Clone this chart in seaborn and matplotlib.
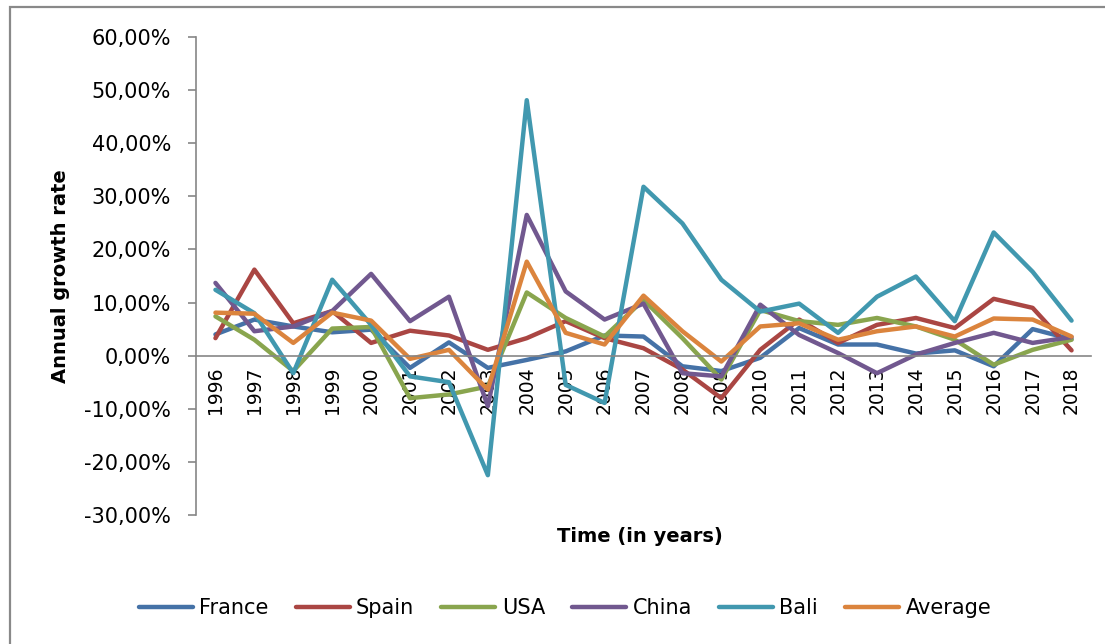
import numpy as np
import pandas as pd
import matplotlib
matplotlib.use("Agg")
import matplotlib.pyplot as plt
import seaborn as sns
from matplotlib.lines import Line2D
from matplotlib.patches import Rectangle

# Annual growth rates (%), 1996-2018
years = [str(y) for y in range(1996, 2019)]
france = [4.0, 6.8, 5.5, 4.4, 4.9, -2.3, 2.5, -2.3, -0.8, 0.8, 3.8, 3.6, -2.0,
          -2.9, -0.4, 5.2, 2.1, 2.1, 0.4, 1.0, -2.0, 5.0, 3.1]
spain = [3.3, 16.2, 6.1, 8.4, 2.4, 4.7, 3.8, 1.1, 3.3, 6.5, 3.3, 1.4, -2.6,
         -8.0, 1.1, 6.8, 2.4, 5.8, 7.1, 5.2, 10.7, 9.0, 1.0]
usa = [7.4, 3.0, -2.9, 5.1, 5.4, -8.0, -7.3, -5.8, 11.9, 7.1, 3.6, 10.5, 3.3,
       -4.5, 8.6, 6.5, 5.8, 7.1, 5.5, 3.0, -1.7, 1.1, 3.0]
china = [13.7, 4.6, 5.5, 8.4, 15.4, 6.5, 11.1, -9.5, 26.5, 12.1, 6.8, 9.8, -3.3,
         -3.9, 9.6, 3.9, 0.5, -3.3, 0.2, 2.4, 4.3, 2.4, 3.5]
bali = [12.4, 8.0, -3.3, 14.3, 5.8, -3.9, -5.0, -22.5, 48.1, -5.5, -8.9, 31.8,
        24.9, 14.3, 8.3, 9.8, 4.3, 11.1, 14.9, 6.5, 23.2, 15.8, 6.6]
average = [8.1, 7.9, 2.4, 8.1, 6.6, -0.6, 1.1, -6.4, 17.7, 4.3, 2.1, 11.3, 4.6,
           -1.1, 5.5, 6.1, 3.0, 4.6, 5.5, 3.6, 7.0, 6.8, 3.6]

series_names = ["France", "Spain", "USA", "China", "Bali", "Average"]
series_values = [france, spain, usa, china, bali, average]
colors = ["#4572A7", "#AA4643", "#89A54E", "#71588F", "#4198AF", "#DB843D"]
y_ticks = [-0.30, -0.20, -0.10, 0.0, 0.10, 0.20, 0.30, 0.40, 0.50, 0.60]

frames = []
for name, vals in zip(series_names, series_values):
    frames.append(pd.DataFrame({
        "pos": np.arange(len(years)),
        "year": years,
        "rate": np.array(vals) / 100.0,
        "series": name,
    }))
df = pd.concat(frames, ignore_index=True)

sns.set_style("white")
plt.rcParams["font.family"] = ["DejaVu Sans"]
plt.rcParams["text.color"] = "black"
plt.rcParams["xtick.labelcolor"] = "black"
plt.rcParams["ytick.labelcolor"] = "black"

fig = plt.figure(figsize=(11.05, 6.44), dpi=100)
ax = fig.add_axes([196 / 1105, 1 - 515 / 644, (1091 - 196) / 1105, (515 - 37) / 644])

sns.lineplot(data=df, x="pos", y="rate", hue="series", hue_order=series_names,
             palette=dict(zip(series_names, colors)), linewidth=3.2,
             errorbar=None, legend=False, ax=ax, sort=False)
for ln in ax.lines:
    ln.set_solid_joinstyle("round")
    ln.set_solid_capstyle("round")

axis_gray = "#868686"
ax.set_xlim(-0.5, len(years) - 0.5)
ax.set_ylim(-0.30, 0.60)

# Category axis sits on the zero line
for s in ["top", "right"]:
    ax.spines[s].set_visible(False)
ax.spines["bottom"].set_position(("data", 0))
for s in ["bottom", "left"]:
    ax.spines[s].set_color(axis_gray)
    ax.spines[s].set_linewidth(1.2)

ax.set_xticks(np.arange(len(years) + 1) - 0.5)
ax.set_xticklabels([])
ax.set_xticks(np.arange(len(years)), minor=True)
ax.set_xticklabels(years, minor=True, rotation=90, fontsize=13.5, color="black")
ax.tick_params(axis="x", which="major", direction="out", length=5,
               width=1.2, color=axis_gray)
ax.tick_params(axis="x", which="minor", length=0, pad=8)

ax.set_yticks(y_ticks)
ax.set_yticklabels([f"{v * 100:.2f}%".replace(".", ",") for v in y_ticks],
                   fontsize=15, color="black")
ax.tick_params(axis="y", direction="out", length=6, width=1.2,
               color=axis_gray, pad=12, left=True)
ax.grid(False)

ax.set_xlabel("")
ax.set_ylabel("")
fig.text(60 / 1105, 1 - 276 / 644, "Annual growth rate", rotation=90,
         ha="center", va="center", fontsize=14, fontweight="bold",
         color="black")
fig.text(640 / 1105, 1 - 537 / 644, "Time (in years)", ha="center",
         va="center", fontsize=14, fontweight="bold", color="black")

handles = [Line2D([0], [0], color=c, lw=3.2, solid_capstyle="round")
           for c in colors]
fig.legend(handles, series_names, ncol=6, loc="center",
           bbox_to_anchor=(565 / 1105, 1 - 608 / 644), frameon=False,
           fontsize=15, handlelength=2.6, handletextpad=0.3,
           columnspacing=1.3, labelcolor="black")

# Chart frame
fig.patches.append(Rectangle((10 / 1105, -0.2), 1.2, 1.2 - 7 / 644,
                             transform=fig.transFigure, fill=False,
                             edgecolor="#898989", linewidth=1.6))

fig.savefig("out.png", dpi=100)
